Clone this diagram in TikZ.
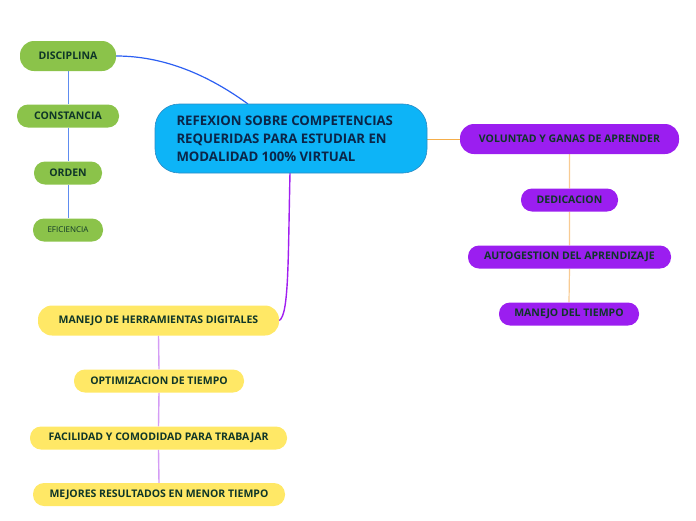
\documentclass[tikz,border=0pt]{standalone}
\usepackage{fontspec}
\setmainfont{Open Sans}
\usetikzlibrary{backgrounds}
\definecolor{cfill}{HTML}{0DB4F7}
\definecolor{cdraw}{HTML}{2C8BC4}
\definecolor{ctext}{HTML}{0B2548}
\definecolor{gfill}{HTML}{8BC34A}
\definecolor{pfill}{HTML}{9B1EF0}
\definecolor{yfill}{HTML}{FFE866}
\definecolor{ntext}{HTML}{0F3628}
\definecolor{blueline}{HTML}{2C5FF2}
\definecolor{bluev}{HTML}{5E8CF0}
\definecolor{purpline}{HTML}{A11FF0}
\definecolor{purpv}{HTML}{D49CF5}
\definecolor{orline}{HTML}{F5AE4A}
\definecolor{orv}{HTML}{F8CB93}
\tikzset{
  pill/.style={rounded corners=11pt, inner sep=0pt, text=ntext, font=\bfseries\fontsize{10.5}{12}\selectfont},
  gpill/.style={pill, fill=gfill},
  ppill/.style={pill, fill=pfill},
  ypill/.style={pill, fill=yfill},
}
\begin{document}
\begin{tikzpicture}[x=1pt,y=-1pt]
\useasboundingbox (0,0) rectangle (696,520);
% central
\node[fill=cfill, draw=cdraw, line width=0.6pt, rounded corners=24pt, minimum width=272pt, minimum height=69pt, inner sep=0pt] (c) at (291,138.5) {};
\node[anchor=west, align=left, text=ctext, font=\bfseries\fontsize{13.2}{18}\selectfont] (ct) at (173,139) {REFEXION SOBRE COMPETENCIAS\\REQUERIDAS PARA ESTUDIAR EN\\MODALIDAD 100\% VIRTUAL};
% green
\node[gpill, rounded corners=14pt, minimum width=96pt, minimum height=30pt] (g1) at (68,56) {DISCIPLINA};
\node[gpill, minimum width=102pt, minimum height=23pt] (g2) at (68,116) {CONSTANCIA};
\node[gpill, minimum width=68pt, minimum height=23pt] (g3) at (68,173) {ORDEN};
\node[gpill, minimum width=70pt, minimum height=23pt, font=\fontsize{8}{9}\selectfont] (g4) at (68,230) {EFICIENCIA};
% purple
\node[ppill, rounded corners=14pt, minimum width=219pt, minimum height=30pt] (p1) at (569.5,139) {VOLUNTAD Y GANAS DE APRENDER};
\node[ppill, minimum width=97pt, minimum height=23pt] (p2) at (569.5,200) {DEDICACION};
\node[ppill, minimum width=203pt, minimum height=23pt] (p3) at (569.5,257) {AUTOGESTION DEL APRENDIZAJE};
\node[ppill, minimum width=140pt, minimum height=23pt] (p4) at (569,314) {MANEJO DEL TIEMPO};
% yellow
\node[ypill, rounded corners=14pt, minimum width=241pt, minimum height=30pt] (y1) at (158.5,320.5) {MANEJO DE HERRAMIENTAS DIGITALES};
\node[ypill, minimum width=170pt, minimum height=23pt] (y2) at (159,381) {OPTIMIZACION DE TIEMPO};
\node[ypill, minimum width=257pt, minimum height=23pt] (y3) at (158.5,438) {FACILIDAD Y COMODIDAD PARA TRABAJAR};
\node[ypill, minimum width=252pt, minimum height=23pt] (y4) at (159,494.5) {MEJORES RESULTADOS EN MENOR TIEMPO};
% connector anchors
\coordinate (ctop) at (248,104);
\coordinate (cbot) at (290,173);
\coordinate (cright) at (427,139);
\begin{scope}[on background layer]
\draw[blueline, line width=1.2pt] (g1.east) .. controls (170,56) and (215,80) .. (ctop);
\draw[bluev, line width=1pt] (g1.south) -- (g2.north) (g2.south) -- (g3.north) (g3.south) -- (g4.north);
\draw[purpline, line width=1.4pt] (cbot) .. controls (288,260) and (289,315) .. (y1.east);
\draw[purpv, line width=1.4pt] (y1.south) -- (y2.north) (y2.south) -- (y3.north) (y3.south) -- (y4.north);
\draw[orline, line width=1pt] (cright) -- (p1.west);
\draw[orv, line width=1.2pt] (p1.south) -- (p2.north) (p2.south) -- (p3.north) (p3.south) -- (p4.north);
\end{scope}
\end{tikzpicture}
\end{document}
